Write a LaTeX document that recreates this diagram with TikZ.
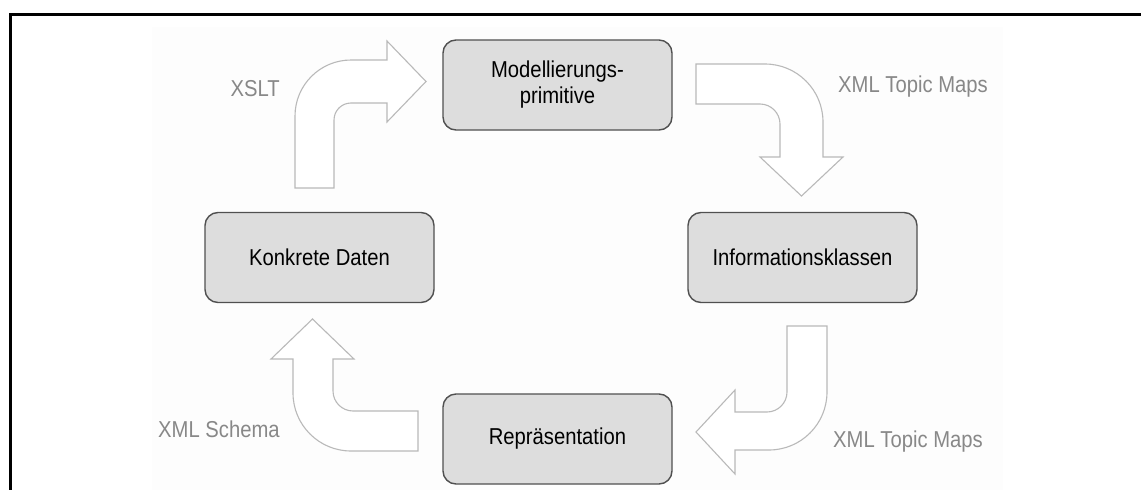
\documentclass[tikz,border=0pt]{standalone}
\usepackage{fontspec}
\setmainfont{Liberation Sans}[FakeStretch=0.88]
\definecolor{boxfill}{RGB}{221,221,221}
\definecolor{boxline}{RGB}{80,80,80}
\definecolor{arrowline}{RGB}{185,185,185}
\definecolor{lblgray}{RGB}{136,136,136}
\definecolor{bgtint}{RGB}{253,253,253}
\begin{document}
\begin{tikzpicture}[x=1pt,y=-1pt,
  box/.style={draw=boxline, line width=1.4pt, fill=boxfill, rounded corners=13pt,
    minimum width=229pt, minimum height=90pt, inner sep=0pt, align=center,
    font=\fontsize{23}{26}\selectfont, text=black},
  blockarrow/.style={draw=arrowline, line width=1.1pt, fill=white, line join=miter},
  lbl/.style={text=lblgray, font=\fontsize{23}{26}\selectfont, inner sep=0pt}]
\useasboundingbox (0,0) rectangle (1141,490);
\fill[bgtint] (152,27) rectangle (1003,490);
\draw[line width=2.7pt] (1141,14.3) -- (10.3,14.3) -- (10.3,490);

% boxes
\node[box] (model) at (557.5,85) {Modellierungs-\\primitive};
\node[box] (info) at (802.5,257.5) {Informationsklassen};
\node[box] (konk) at (319.5,257.5) {Konkrete Daten};
\node[box] (repr) at (557.5,439) {Repräsentation};

% block arrows
\draw[blockarrow] (295,188) -- (295,116) .. controls (295,85.1) and (320.1,60) .. (351,60)
  -- (387,60) -- (387,41) -- (426,81.5) -- (387,122) -- (387,103) -- (351,103)
  .. controls (341.6,103) and (334,110.6) .. (334,120) -- (334,188) -- cycle;
\draw[blockarrow] (696,64) -- (765,64) .. controls (797,64) and (823,90) .. (823,122)
  -- (823,157) -- (843,157) -- (801.5,196) -- (760,157) -- (780,157) -- (780,124)
  .. controls (780,113) and (771,104) .. (760,104) -- (696,104) -- cycle;
\draw[blockarrow] (787,326) -- (827,326) -- (827,392) .. controls (827,424) and (801,450) .. (769,450)
  -- (735,450) -- (735,474) -- (696,432) -- (735,390) -- (735,412) -- (767,412)
  .. controls (778,412) and (787,403) .. (787,392) -- cycle;
\draw[blockarrow] (418,451) -- (351,451) .. controls (319,451) and (293,425) .. (293,393)
  -- (293,359) -- (271,359) -- (312.5,319) -- (354,359) -- (333,359) -- (333,391)
  .. controls (333,402) and (342,411) .. (353,411) -- (418,411) -- cycle;

% labels
\node[lbl, anchor=base east] (xslt) at (280,96) {XSLT};
\node[lbl, anchor=base west] (xtm1) at (838,92) {XML Topic Maps};
\node[lbl, anchor=base west] (xtm2) at (833,447) {XML Topic Maps};
\node[lbl, anchor=base west] (xsd) at (158,437) {XML Schema};
\end{tikzpicture}
\end{document}
